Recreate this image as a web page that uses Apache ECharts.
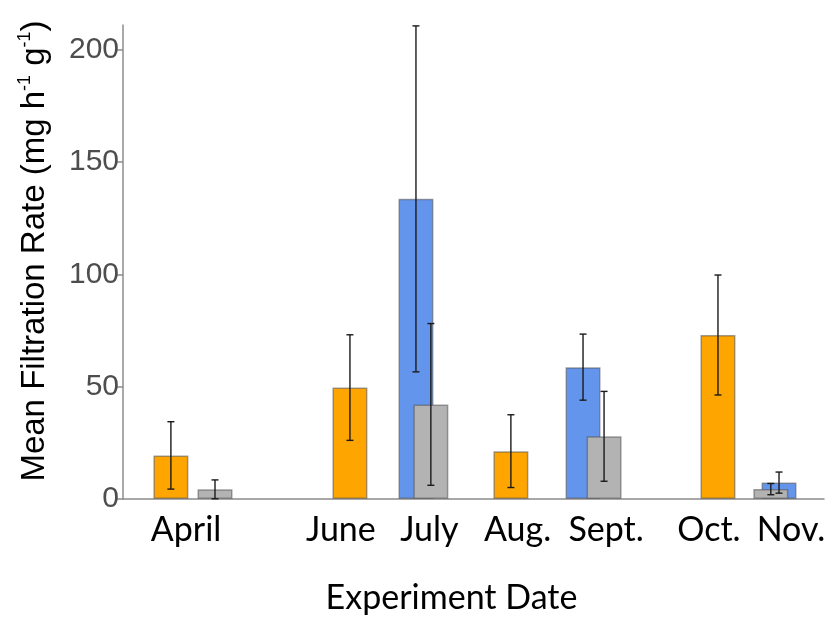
<!DOCTYPE html>
<html>
<head>
<meta charset="utf-8">
<script src="https://cdn.jsdelivr.net/npm/echarts@6/dist/echarts.min.js"></script>
<style>html,body{margin:0;padding:0;background:#fff}#c{width:832px;height:619px}</style>
</head>
<body>
<div id="c"></div>
<script>
// x positions are in day-of-year units
const labelDays = [111.6, 164.6, 194.9, 225.1, 255.4, 290.6, 318.7];
const labelNames = ['April', 'June', 'July', 'Aug.', 'Sept.', 'Oct.', 'Nov.'];

const orangeDays = [106.4, 167.7, 222.8, 293.7];
const orangeMeans = [19.4, 49.6, 21.3, 73.0];
const orangeErr = [15.0, 23.5, 16.2, 26.7];

const blueDays = [190.3, 247.5, 314.6];
const blueMeans = [133.6, 58.7, 7.3];
const blueErr = [77.0, 14.7, 4.7];

const grayDays = [121.5, 195.4, 254.7, 311.8];
const grayMeans = [4.3, 42.1, 27.9, 4.4];
const grayErr = [4.2, 36.0, 20.0, 2.5];

const yTicks = [0, 50, 100, 150, 200];

function pts(days, means) { return days.map((d, i) => [d, means[i]]); }
function errPts(days, means, errs) { return days.map((d, i) => [d, means[i], errs[i]]); }

const barBorder = { borderColor: 'rgba(85,85,85,0.55)', borderWidth: 1.5 };

function errSeries(data, z) {
  return {
    type: 'custom',
    z: z,
    data: data,
    encode: { x: 0, y: 1 },
    renderItem: function (params, api) {
      const x = api.value(0), m = api.value(1), e = api.value(2);
      const lo = api.coord([x, Math.max(0, m - e)]);
      const hi = api.coord([x, m + e]);
      const w = 3.5;
      const st = { stroke: '#1a1a1a', lineWidth: 1.4 };
      return {
        type: 'group',
        children: [
          { type: 'line', shape: { x1: lo[0], y1: lo[1], x2: hi[0], y2: hi[1] }, style: st },
          { type: 'line', shape: { x1: lo[0] - w, y1: lo[1], x2: lo[0] + w, y2: lo[1] }, style: st },
          { type: 'line', shape: { x1: hi[0] - w, y1: hi[1], x2: hi[0] + w, y2: hi[1] }, style: st }
        ]
      };
    }
  };
}

const chart = echarts.init(document.getElementById('c'), null, { renderer: 'canvas' });
chart.setOption({
  animation: false,
  grid: { left: 123, right: 8, top: 25, bottom: 120, containLabel: false, outerBoundsMode: 'none' },
  xAxis: {
    type: 'value',
    min: 90,
    max: 330,
    splitLine: { show: false },
    axisLine: { show: true, lineStyle: { color: '#8c8c8c', width: 1.5 } },
    axisTick: { show: false },
    axisLabel: {
      customValues: labelDays,
      formatter: function (v) {
        const i = labelDays.findIndex(d => Math.abs(d - v) < 0.01);
        return i >= 0 ? labelNames[i] : '';
      },
      margin: 14,
      color: '#000',
      fontFamily: 'Lato',
      fontSize: 34
    },
    name: 'Experiment Date',
    nameLocation: 'middle',
    nameGap: 82,
    nameTextStyle: { color: '#000', fontFamily: 'Lato', fontSize: 34, padding: [0, 44, 0, 0] }
  },
  yAxis: {
    type: 'value',
    min: 0,
    max: 211,
    interval: 50,
    splitLine: { show: false },
    axisLine: { show: true, lineStyle: { color: '#8c8c8c', width: 1.5 } },
    axisTick: { show: true, customValues: yTicks, length: 6, lineStyle: { color: '#8c8c8c', width: 1.5 } },
    axisLabel: {
      customValues: yTicks,
      margin: 4,
      color: '#4d4d4d',
      fontFamily: 'Liberation Sans, Arial',
      fontSize: 30
    },
    name: '{a|Mean Filtration Rate (mg h}{s|-1}{a| g}{s|-1}{a|)}',
    nameLocation: 'middle',
    nameGap: 69,
    nameTextStyle: {
      padding: [0, 0, 0, 22],
      rich: {
        a: { color: '#000', fontFamily: 'Liberation Sans, Arial', fontSize: 33, lineHeight: 38 },
        s: { color: '#000', fontFamily: 'Liberation Sans, Arial', fontSize: 18, verticalAlign: 'top', lineHeight: 38, padding: [0, 0, 12, 0] }
      }
    }
  },
  series: [
    { type: 'bar', name: 'orange', data: pts(orangeDays, orangeMeans), barWidth: 35, barGap: '-100%', z: 2,
      itemStyle: Object.assign({ color: '#FFA500' }, barBorder) },
    { type: 'bar', name: 'blue', data: pts(blueDays, blueMeans), barWidth: 35, barGap: '-100%', z: 3,
      itemStyle: Object.assign({ color: '#6495ED' }, barBorder) },
    { type: 'bar', name: 'gray', data: pts(grayDays, grayMeans), barWidth: 35, barGap: '-100%', z: 4,
      itemStyle: Object.assign({ color: '#B3B3B3' }, barBorder) },
    errSeries(errPts(orangeDays, orangeMeans, orangeErr), 10),
    errSeries(errPts(blueDays, blueMeans, blueErr), 10),
    errSeries(errPts(grayDays, grayMeans, grayErr), 10)
  ]
});
</script>
</body>
</html>
